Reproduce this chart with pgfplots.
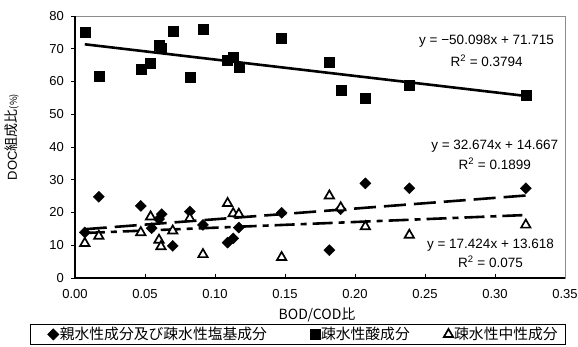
\documentclass[border=0pt]{standalone}
\usepackage{fontspec}
\setmainfont{Liberation Sans}
\newfontfamily\jp{Noto Sans CJK JP}
\usepackage{pgfplots}
\pgfplotsset{compat=1.18}
\pgfplotsset{markonly legend/.style={legend image code/.code={\draw[##1] plot coordinates {(0pt,0pt)};}},
  markonly legend first/.style={legend image code/.code={\path (-16pt,0pt); \draw[##1] plot coordinates {(0pt,0pt)};}}}
\begin{document}
\begin{tikzpicture}
\begin{axis}[
  scale only axis, width=490pt, height=262pt,
  xmin=0, xmax=0.35, ymin=0, ymax=80,
  clip=false,
  xtick={0,0.05,0.1,0.15,0.2,0.25,0.3,0.35},
  xticklabels={0.00,0.05,0.10,0.15,0.20,0.25,0.30,0.35},
  ytick={0,10,20,30,40,50,60,70,80},
  tick pos=left,
  xtick align=inside, ytick align=outside,
  major tick length=4pt,
  tick style={black, line width=0.8pt},
  axis line style={draw=black!45, line width=0.8pt},
  /pgf/number format/assume math mode=true,
  tick label style={font=\fontsize{13}{13}\selectfont},
  xticklabel style={inner sep=0pt, yshift=-11pt},
  yticklabel style={inner sep=0pt, xshift=-7pt},
  xlabel={\jp\fontsize{14}{14}\selectfont BOD/COD比},
  xlabel style={at={([yshift=-37pt]rel axis cs:0.494,0)}, anchor=center},
  ylabel={{\fontsize{13}{13}\selectfont DOC}{\jp\fontsize{14}{14}\selectfont 組成比}{\jp\fontsize{9.5}{9.5}\selectfont (\%)}},
  ylabel style={at={([xshift=-63pt]rel axis cs:0,0.538)}, anchor=center},
  legend columns=3,
  legend cell align=left,
  legend style={at={([xshift=-45pt,yshift=-46pt]rel axis cs:0,0)}, anchor=north west,
    draw=black, line width=0.8pt, inner xsep=6.5pt, inner ysep=2pt,
    font=\jp\fontsize{14.8}{16}\selectfont,
    nodes={inner sep=1pt},
    /tikz/column 2/.style={column sep=42pt},
    /tikz/column 4/.style={column sep=33pt}},
]
% hydrophilic + hydrophobic base
\addplot[only marks, mark=square*, mark size=3.9pt, mark options={rotate=45, fill=black, draw=black}, markonly legend first]
  table {
x y
0.007 13.9
0.017 24.8
0.047 22.0
0.0548 15.2
0.060 18.0
0.062 19.5
0.0698 9.8
0.082 20.3
0.0914 16.2
0.109 10.8
0.113 12.1
0.117 15.4
0.1476 19.9
0.1817 8.5
0.1898 21.0
0.2074 28.9
0.2388 27.4
0.322 27.4
};
\addlegendentry{親水性成分及び疎水性塩基成分}
% hydrophobic acid
\addplot[only marks, mark=square*, mark size=5pt, mark options={fill=black, draw=black}, markonly legend]
  table {
x y
0.0071 75.2
0.0171 61.7
0.047 63.8
0.054 65.5
0.0605 71.0
0.0615 70.2
0.0698 75.4
0.082 61.2
0.0914 75.9
0.109 66.6
0.113 67.4
0.117 64.5
0.1476 73.2
0.1817 65.9
0.1898 57.2
0.2074 54.8
0.2388 58.9
0.322 55.9
};
\addlegendentry{疎水性酸成分}
% hydrophobic neutral
\addplot[only marks, mark=triangle*, mark size=5.4pt, mark options={fill=white, draw=black, line width=1.7pt}, markonly legend]
  table {
x y
0.007 10.6
0.017 12.8
0.047 13.9
0.054 18.7
0.060 11.6
0.0614 9.6
0.0698 14.4
0.082 18.2
0.0914 7.2
0.109 22.8
0.113 19.7
0.117 19.5
0.1476 6.3
0.1817 25.1
0.1898 21.5
0.2074 15.7
0.2388 13.1
0.322 16.2
};
\addlegendentry{疎水性中性成分}
% trend lines
\addplot[forget plot, black, line width=2.6pt] coordinates {(0.007,71.364) (0.322,55.583)};
\addplot[forget plot, black, line width=2.6pt, dash pattern=on 22pt off 8pt] coordinates {(0.007,14.896) (0.322,25.188)};
\addplot[forget plot, black, line width=2.6pt, dash pattern=on 20pt off 6pt on 6pt off 6pt] coordinates {(0.007,13.740) (0.322,19.228)};
% equations
\node[align=center, font=\fontsize{13.5}{22}\selectfont] at (axis cs:0.294,69.3) {y = −50.098x + 71.715\\R\textsuperscript{2} = 0.3794};
\node[align=center, font=\fontsize{13.5}{20}\selectfont] at (axis cs:0.2998,37.6) {y = 32.674x + 14.667\\R\textsuperscript{2} = 0.1899};
\node[align=center, font=\fontsize{13.5}{19.5}\selectfont] at (axis cs:0.2968,7.6) {y = 17.424x + 13.618\\R\textsuperscript{2} = 0.075};
\draw[black, line width=1.8pt] (rel axis cs:0,1) -- (rel axis cs:0,0) -- (rel axis cs:1,0);
\coordinate (sw) at (rel axis cs:0,0);
\coordinate (ne) at (rel axis cs:1,1);
\end{axis}
\pgfresetboundingbox
\path ([shift={(-75pt,-69pt)}]sw) rectangle ([shift={(13pt,16pt)}]ne);
\end{tikzpicture}
\end{document}
